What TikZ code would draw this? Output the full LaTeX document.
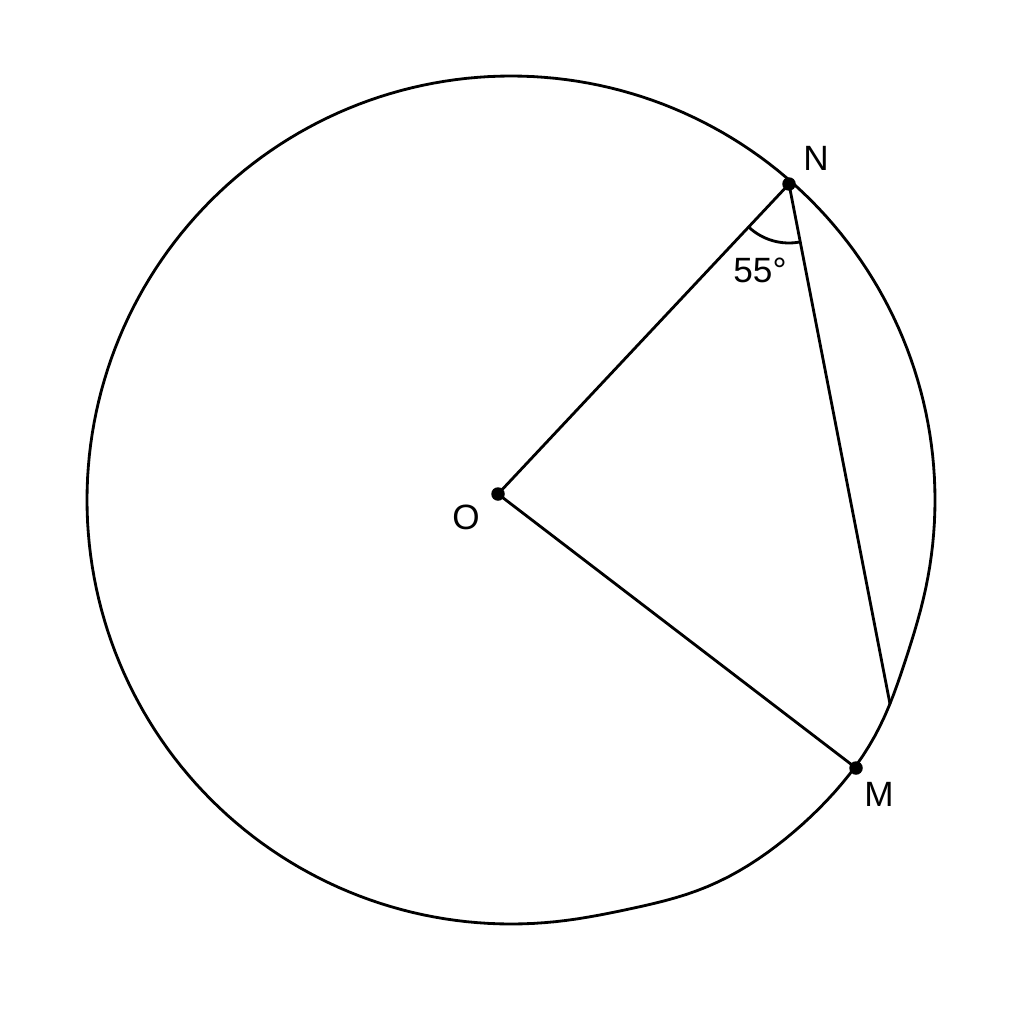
\documentclass[tikz,border=0pt]{standalone}
\usepackage{fontspec}
\setmainfont{Liberation Sans}
\usetikzlibrary{positioning}

\begin{document}
\begin{tikzpicture}[x=0.02cm, y=-0.02cm, line width=1.6pt,
  dot/.style = {circle, fill, inner sep=0pt, minimum size=0.27cm},
  lbl/.style = {font=\fontsize{20}{24}\selectfont, inner sep=0pt}]
\useasboundingbox (0,0) rectangle (1024,1024);
% outline, a little wider round M
\draw plot[domain=0:360, samples=241]
  ({511+(424+12*exp(-((min(abs(\x-48)/22,2))^4)))*cos(\x)},
   {500+(424+12*exp(-((min(abs(\x-48)/22,2))^4)))*sin(\x)}) -- cycle;
\node[dot] (o) at (498,494) {};
\node[dot] (n) at (789,184) {};
\node[dot] (m) at (856,768) {};
\coordinate (p) at (890,704);
\draw (o.center) -- (n.center);
\draw (o.center) -- (m.center);
\draw (n.center) -- (p);
\draw (n.center) ++(227:1.18cm) arc[start angle=227, end angle=281, radius=1.18cm];
\node[lbl] (ln) at (816,158) {N};
\node[lbl] (lo) at (466,517) {O};
\node[lbl] (lm) at (879,794) {M};
\node[lbl] (la) at (760,270) {55°};
\end{tikzpicture}
\end{document}
